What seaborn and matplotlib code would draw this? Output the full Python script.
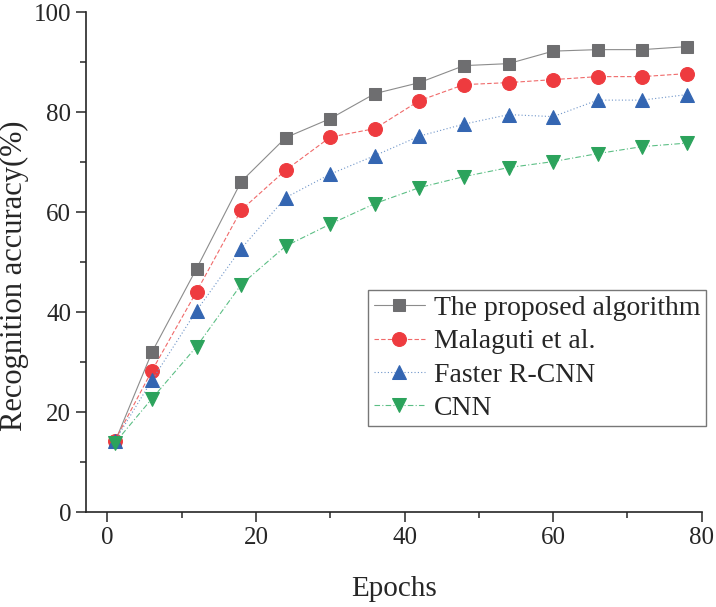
import numpy as np
import pandas as pd
import matplotlib
matplotlib.use("Agg")
import matplotlib.pyplot as plt
import seaborn as sns
from matplotlib.ticker import MultipleLocator

# Data
epochs = [1, 6, 12, 18, 24, 30, 36, 42, 48, 54, 60, 66, 72, 78]
proposed = [14.0, 32.0, 48.7, 66.1, 74.9, 78.7, 83.7, 85.9, 89.3, 89.7, 92.2, 92.5, 92.5, 93.1]
malaguti = [14.3, 28.3, 44.1, 60.4, 68.4, 75.0, 76.7, 82.3, 85.5, 85.9, 86.5, 87.1, 87.1, 87.7]
faster_rcnn = [14.2, 26.4, 40.3, 52.7, 62.9, 67.6, 71.3, 75.2, 77.6, 79.5, 79.1, 82.4, 82.4, 83.5]
cnn = [13.8, 22.7, 33.1, 45.5, 53.2, 57.6, 61.7, 64.9, 67.1, 68.9, 70.1, 71.7, 73.1, 73.8]

labels = ["The proposed algorithm", "Malaguti et al.", "Faster R-CNN", "CNN"]

sns.set_style("ticks")
plt.rcParams["font.family"] = ["Liberation Serif", "DejaVu Serif"]

fig = plt.figure(figsize=(7.16, 6.07), dpi=100)
ax = fig.add_axes([0.120, 0.1565, 0.860, 0.8235])

series = [
    (proposed, "s", "#6e6e70", "#8c8c8c", "-", 8.5),
    (malaguti, "o", "#ee3b3f", "#f06a6a", (0, (4, 2)), 10),
    (faster_rcnn, "^", "#3466b2", "#6f95c9", (0, (1, 2)), 10.5),
    (cnn, "v", "#2ca35c", "#5cbf85", (0, (5, 2, 1, 2)), 10.5),
]

for (vals, mk, mcol, lcol, ls, ms), lab in zip(series, labels):
    df = pd.DataFrame({"Epochs": epochs, "acc": vals})
    sns.lineplot(data=df, x="Epochs", y="acc", ax=ax, color=lcol, linewidth=0.8,
                 linestyle=ls, marker=mk, markersize=ms, markerfacecolor=mcol,
                 markeredgecolor=mcol, label=lab)

ax.set_xlim(-2.9, 80)
ax.set_ylim(0, 100)
ax.xaxis.set_major_locator(MultipleLocator(20))
ax.xaxis.set_minor_locator(MultipleLocator(10))
ax.yaxis.set_major_locator(MultipleLocator(20))
ax.yaxis.set_minor_locator(MultipleLocator(10))
ax.tick_params(which="major", length=7, width=1.1, labelsize=18, direction="out")
ax.tick_params(which="minor", length=4, width=1.1, direction="out")
for s in ["left", "bottom"]:
    ax.spines[s].set_linewidth(1.2)
sns.despine(ax=ax)

ax.set_xlabel("Epochs", fontsize=21, labelpad=20)
ax.set_ylabel("Recognition accuracy(%)", fontsize=22)
ax.yaxis.set_label_coords(-0.093, 0.472)

leg = ax.legend(loc="upper left", bbox_to_anchor=(0.514, 0.522),
                bbox_transform=fig.transFigure, fontsize=20, frameon=True,
                fancybox=False, edgecolor="#777777", framealpha=1,
                borderpad=0.2, labelspacing=0.28, handlelength=1.85,
                handletextpad=0.33, borderaxespad=0)
leg.get_frame().set_linewidth(1.0)

fig.savefig("out.png", dpi=100)
